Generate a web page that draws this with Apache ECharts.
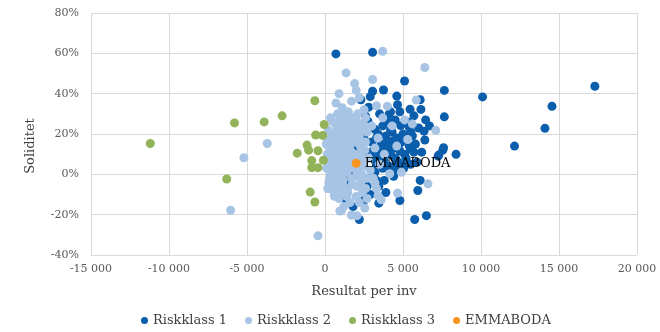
<!DOCTYPE html>
<html>
<head>
<meta charset="utf-8">
<title>Soliditet / Resultat per inv</title>
<script src="https://cdn.jsdelivr.net/npm/echarts@6/dist/echarts.min.js"></script>
<style>
    html, body { margin: 0; padding: 0; background: #fff; }
    #chart { width: 660px; height: 332px; }
</style>
</head>
<body>
<div id="chart"></div>
<script>
// [resultat per inv (kr), soliditet (%)]
var riskklass1 = [
    [700, 59.7], [3050, 60.5], [5100, 46.3], [3050, 41.2], [3750, 41.8], [7650, 41.6],
    [10100, 38.4], [17300, 43.7], [14550, 33.7], [14100, 22.8], [12150, 14], [7650, 28.5],
    [7600, 13.2], [8400, 9.9], [4600, 38.8], [6100, 37], [6150, 32.2], [6450, 27],
    [6350, 21.4], [2800, 33.3], [4650, 34.5], [5450, 32.3], [2600, 28.9], [4100, 29.7],
    [4850, 24.2], [5400, 23.4], [3900, 19], [4350, 16.5], [7550, 12], [7300, 9.6],
    [4800, 11.5], [5500, 12.4], [3200, 22.3], [2750, 26.4], [4000, 26.4], [5950, -8],
    [5750, -22.4], [6500, -20.5], [2200, -22.4], [3450, -14.3], [3450, -5.9], [2700, -5.9],
    [1550, -4.3], [1300, -12.3], [5050, 3], [1550, 0], [5000, 4.1], [7250, 9],
    [3300, 18], [3600, 15], [3900, 13], [4200, 10], [4500, 8], [4700, 6],
    [3500, 9], [3800, 7], [4100, 4], [3100, 12], [3300, 5], [5200, 17],
    [5600, 19], [5800, 15], [5200, 8], [5900, 6], [6200, 11], [3700, 24],
    [4300, 21], [4600, 18], [5000, 20], [5300, 26], [4500, 27], [3500, 30],
    [2300, 37], [2900, 38.5], [6400, 17], [6700, 24], [5700, 29], [3000, 16],
    [2500, 18], [2200, 22], [2000, 14], [1800, 24], [2600, 10], [4400, -1],
    [3800, -3], [2900, -10], [3900, -9], [3200, 1], [6100, -3], [4800, -13],
    [1800, -16], [2500, -13], [4400, 1.5], [3000, -1],
    [3400, 20], [3600, 11], [4000, 16], [4200, 22], [4400, 13], [4700, 14],
    [4900, 16], [5100, 10], [5400, 14], [5700, 11], [3900, 27], [4200, 31],
    [4800, 31], [5500, 21], [4500, 4], [3700, 3], [3300, -3], [5500, 5],
    [3100, 8], [6000, 23]
]
var riskklass2 = [
    [-5200, 8.2], [-3700, 15.3], [-6050, -17.8], [-450, -30.5], [700, 35.4], [1350, 50.3],
    [3050, 47], [3700, 61], [6400, 53], [2000, 41.6], [5850, 36.8], [7100, 21.8],
    [5300, 17.3], [6600, -4.7], [4650, -9.3], [3600, -12.6], [2550, -16.7], [950, -18.2],
    [1700, -20.3], [2050, -20.5], [600, -10.9], [1450, -9.3], [2400, -8.8], [3200, -4.3],
    [4150, 0.3], [1700, 36.3], [4000, 33.8], [3400, -10.7], [1050, -18],
    [200, 22], [500, 26], [800, 30], [1100, 33], [1500, 31], [400, 18],
    [700, 21], [1000, 24], [1300, 27], [1700, 28], [2100, 30], [2500, 32],
    [300, 13], [600, 15], [900, 17], [1200, 19], [1600, 21], [1900, 23],
    [2300, 25], [2700, 21], [200, 8], [500, 10], [800, 12], [1100, 14],
    [1400, 16], [1800, 17], [2200, 19], [2600, 16], [3000, 24], [100, 3],
    [400, 5], [700, 7], [1000, 9], [1300, 11], [1600, 12], [2000, 10],
    [2400, 12], [2800, 8], [3200, 13], [300, -2], [600, 0], [900, 2],
    [1200, 4], [1500, 6], [1800, 3], [2100, 7], [2500, 4], [2900, 2],
    [200, -7], [500, -5], [800, -3], [1100, -1], [1400, 1], [1700, -2],
    [2000, -1], [2300, -4], [600, -9], [900, -12], [1200, -6], [1600, -14],
    [2000, -11], [2700, -2], [3500, 5], [3800, 10], [3400, 18], [3700, 28],
    [4300, 24], [4600, 14], [5100, 27], [5600, 25], [4900, 1], [3300, 34],
    [2200, 38], [900, 40], [1900, 45], [1200, -16], [2700, -12], [3300, -7],
    [1400, 20], [1000, 5], [1700, 8], [2400, 16], [350, 28], [80, 15], [180, -7],
    [150, 10], [450, 12], [750, 14], [1050, 16], [1350, 13], [1650, 15],
    [1950, 16], [2250, 14], [2550, 12], [150, 17], [450, 20], [750, 24],
    [1050, 21], [1350, 23], [1650, 25], [1950, 20], [2250, 22], [2550, 24],
    [350, 0], [650, 3], [950, 6], [1250, 8], [1550, 4], [1850, 6],
    [2150, 2], [2450, 8], [250, -4], [550, -2], [850, -6], [1150, -3],
    [1450, -8], [1750, -5], [2050, -6], [2350, 0], [700, 10], [1000, 12],
    [1300, 2], [1700, 11], [2000, 5], [600, 18], [900, 26], [1200, 29],
    [1500, 26], [2000, 27], [2600, 28], [1000, -9], [1400, -11], [2200, -14],
    [2600, -7], [3100, -2]
]
var riskklass3 = [
    [-11200, 15.3], [-5800, 25.5], [-3900, 26], [-2750, 29], [-650, 36.5], [-50, 24.7],
    [-600, 19.5], [-150, 19.3], [-1150, 14.5], [-1050, 12], [-450, 11.7], [-1780, 10.5],
    [-850, 6.8], [-100, 7], [-850, 3.3], [-450, 3.3], [-6300, -2.3], [-950, -8.8],
    [-650, -13.7]
]
var emmaboda = [[2000, 5.5]]

var seriesNames = ['Riskklass 1', 'Riskklass 2', 'Riskklass 3', 'EMMABODA']
var seriesColors = ['#0B5EAC', '#A7C4E5', '#93B35A', '#F7931E']

var serif = 'DejaVu Serif'

function fmtThousands(v) {
    var s = String(Math.abs(v)).replace(/\B(?=(\d{3})+(?!\d))/g, ' ')
    return (v < 0 ? '-' : '') + s
}

var chart = echarts.init(document.getElementById('chart'))
chart.setOption({
    animation: false,
    color: seriesColors,
    grid: {
        left: 91,
        right: 23,
        top: 13,
        bottom: 77
    },
    legend: {
        data: seriesNames,
        bottom: 0,
        left: 136,
        icon: 'circle',
        itemWidth: 7,
        itemHeight: 7,
        itemGap: 18,
        textStyle: { fontFamily: serif, fontSize: 13, color: '#404040' }
    },
    // y-axis title placed by hand, Excel centres it a bit lower than the plot middle
    graphic: [{
        type: 'text',
        x: 31,
        y: 146,
        rotation: Math.PI / 2,
        style: {
            text: 'Soliditet',
            font: '13px "DejaVu Serif"',
            fill: '#404040',
            align: 'center',
            verticalAlign: 'middle'
        }
    }],
    xAxis: {
        type: 'value',
        min: -15000,
        max: 20000,
        interval: 5000,
        name: 'Resultat per inv',
        nameLocation: 'middle',
        nameGap: 30,
        nameTextStyle: { fontFamily: serif, fontSize: 13, color: '#404040' },
        axisLine: { show: false },
        axisTick: { show: false },
        axisLabel: {
            fontFamily: serif, fontSize: 11, color: '#595959', margin: 9,
            formatter: fmtThousands
        },
        splitLine: { lineStyle: { color: '#D9D9D9' } }
    },
    yAxis: {
        type: 'value',
        min: -40,
        max: 80,
        interval: 20,
        axisLine: { show: false },
        axisTick: { show: false },
        axisLabel: {
            fontFamily: serif, fontSize: 11, color: '#595959', margin: 12,
            formatter: '{value}%'
        },
        splitLine: { lineStyle: { color: '#D9D9D9' } }
    },
    series: [
        { name: seriesNames[0], type: 'scatter', symbolSize: 9, itemStyle: { opacity: 1 }, data: riskklass1 },
        { name: seriesNames[1], type: 'scatter', symbolSize: 9, itemStyle: { opacity: 1 }, data: riskklass2 },
        { name: seriesNames[2], type: 'scatter', symbolSize: 9, itemStyle: { opacity: 1 }, data: riskklass3 },
        {
            name: seriesNames[3], type: 'scatter', symbolSize: 9, itemStyle: { opacity: 1 }, data: emmaboda,
            label: {
                show: true, position: 'right', distance: 4,
                formatter: 'EMMABODA',
                fontFamily: serif, fontSize: 13, color: '#000'
            }
        }
    ]
})
</script>
</body>
</html>
